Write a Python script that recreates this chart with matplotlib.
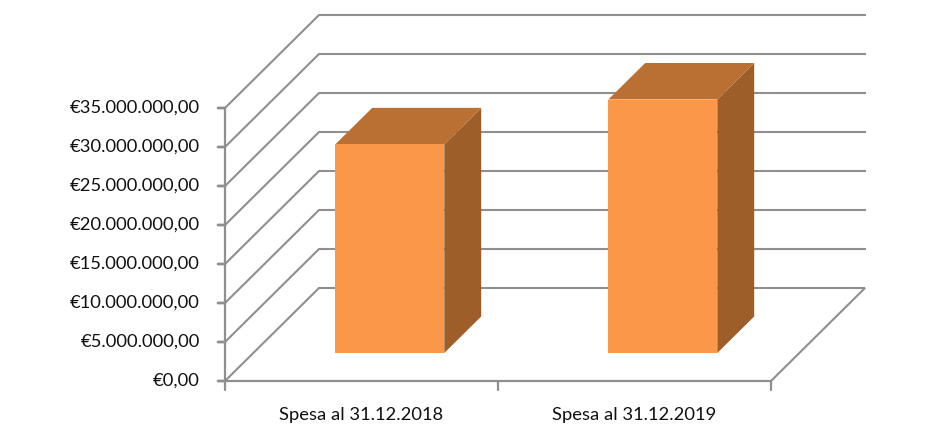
import matplotlib
matplotlib.use("Agg")
import matplotlib.pyplot as plt
from matplotlib.patches import Polygon

categories = ["Spesa al 31.12.2018", "Spesa al 31.12.2019"]
values = [26750000, 32500000]
ticks = [0, 5000000, 10000000, 15000000, 20000000, 25000000, 30000000, 35000000]
tick_labels = ["€0,00", "€5.000.000,00", "€10.000.000,00", "€15.000.000,00",
               "€20.000.000,00", "€25.000.000,00", "€30.000.000,00", "€35.000.000,00"]

W, H = 936, 446
FONT = "Lato"
GRID = "#8f8f8f"
fig = plt.figure(figsize=(W / 100, H / 100), dpi=100, facecolor="white")
ax = fig.add_axes([225 / W, 1 - 381 / H, (771 - 225) / W, (381 - 108) / H])
ax.set_xlim(0, len(categories))
ax.set_ylim(0, 35000000)
ax.axis("off")

DX = 94 / 273.0          # full-depth shift in category units
DY = 93 / 273.0 * 35000000  # full-depth shift in value units


def proj(x, v, d):
    return (x + DX * d, v + DY * d)


# walls: gridlines on side wall and back wall
for t in ticks:
    xs, ys = zip(proj(0, t, 0), proj(0, t, 1), proj(len(categories), t, 1))
    if t == 0:
        xs, ys = zip(proj(0, t, 0), proj(0, t, 1), proj(len(categories), t, 1),
                     proj(len(categories), t, 0))
    ax.plot(xs, ys, color=GRID, lw=1.5, clip_on=False, zorder=1, solid_joinstyle="miter")

# axes
ax.plot([0, 0], [0, 35000000], color=GRID, lw=1.6, clip_on=False, zorder=2)
ax.plot([0, len(categories)], [0, 0], color=GRID, lw=1.6, clip_on=False, zorder=2)

# tick marks
for t, lab in zip(ticks, tick_labels):
    ax.annotate("", xy=(0, t), xytext=(-7, 0), textcoords="offset pixels",
                arrowprops=dict(arrowstyle="-", color=GRID, lw=2, shrinkA=0, shrinkB=0),
                annotation_clip=False)
    ax.annotate(lab, xy=(0, t), xytext=(-25, 0), textcoords="offset pixels", ha="right",
                va="center", fontsize=13.2, family=FONT, color="#111111", annotation_clip=False)
for i in range(len(categories) + 1):
    ax.annotate("", xy=(i, 0), xytext=(0, -9), textcoords="offset pixels",
                arrowprops=dict(arrowstyle="-", color=GRID, lw=1.6, shrinkA=0, shrinkB=0),
                annotation_clip=False)
for i, c in enumerate(categories):
    ax.annotate(c, xy=(i + 0.5, 0), xytext=(0, -34), textcoords="offset pixels", ha="center",
                va="center", fontsize=13.2, family=FONT, color="#111111", annotation_clip=False)

# bars
bw = 109 / 273.0
d0, d1 = 28 / 93.0, 64.5 / 93.0
for i, v in enumerate(values):
    x0 = i + 0.5 - bw / 2
    x1 = x0 + bw
    front = [proj(x0, 0, d0), proj(x1, 0, d0), proj(x1, v, d0), proj(x0, v, d0)]
    top = [proj(x0, v, d0), proj(x1, v, d0), proj(x1, v, d1), proj(x0, v, d1)]
    side = [proj(x1, 0, d0), proj(x1, 0, d1), proj(x1, v, d1), proj(x1, v, d0)]
    ax.add_patch(Polygon(side, closed=True, fc="#9e5e29", ec="none", clip_on=False, zorder=3))
    ax.add_patch(Polygon(top, closed=True, fc="#bb7033", ec="none", clip_on=False, zorder=3))
    ax.add_patch(Polygon(front, closed=True, fc="#fa9748", ec="none", clip_on=False, zorder=4))

fig.savefig("out.png", dpi=100, facecolor="white")
